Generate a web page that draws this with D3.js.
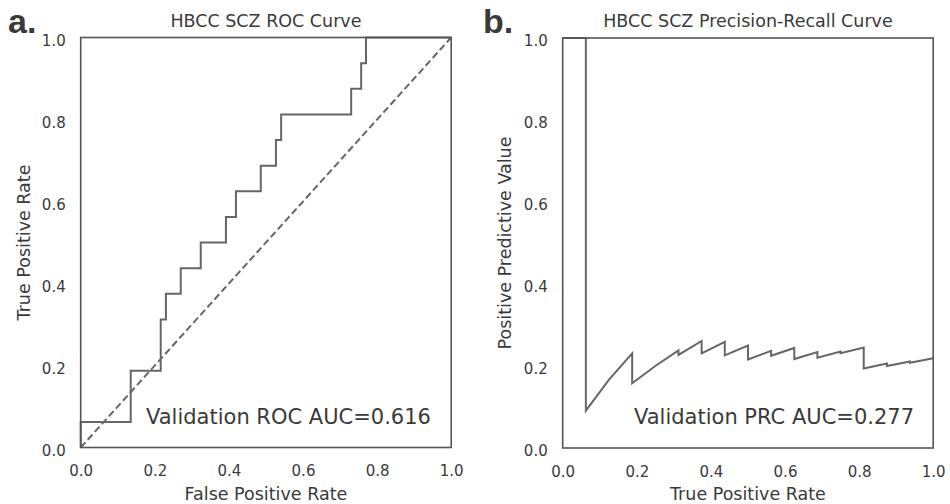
<!DOCTYPE html>
<html>
<head>
<meta charset="utf-8">
<script src="https://cdn.jsdelivr.net/npm/d3@7"></script>
<style>
  body { margin: 0; background: #fff; }
  svg text { font-family: "DejaVu Sans", sans-serif; fill: #3a3a3a; }
</style>
</head>
<body>
<div id="chart"></div>
<script>
"use strict";

// ROC curve corners (false positive rate, true positive rate)
var rocFpr = [0, 0, 0.135, 0.135, 0.216, 0.216, 0.230, 0.230, 0.270, 0.270, 0.324, 0.324,
    0.392, 0.392, 0.419, 0.419, 0.486, 0.486, 0.527, 0.527, 0.541, 0.541, 0.730, 0.730,
    0.757, 0.757, 0.770, 0.770, 1.0];
var rocTpr = [0, 0.0625, 0.0625, 0.1875, 0.1875, 0.3125, 0.3125, 0.375, 0.375, 0.4375, 0.4375, 0.5,
    0.5, 0.5625, 0.5625, 0.625, 0.625, 0.6875, 0.6875, 0.75, 0.75, 0.8125, 0.8125, 0.875,
    0.875, 0.9375, 0.9375, 1.0, 1.0];

// Precision-recall curve (recall, precision)
var prRecall = [0, 0.0625, 0.0625, 0.125, 0.1875, 0.1875, 0.25, 0.3125, 0.3125, 0.375, 0.375,
    0.4375, 0.4375, 0.5, 0.5, 0.5625, 0.5625, 0.625, 0.625, 0.6875, 0.6875, 0.75, 0.75,
    0.8125, 0.8125, 0.875, 0.875, 0.9375, 0.9375, 1.0];
var prPrecision = [1.0, 1.0, 0.091, 0.167, 0.231, 0.158, 0.200, 0.238, 0.227, 0.261, 0.231,
    0.259, 0.226, 0.250, 0.216, 0.237, 0.225, 0.244, 0.217, 0.234, 0.220, 0.235, 0.231,
    0.245, 0.194, 0.206, 0.200, 0.211, 0.208, 0.219];

var tickValues = [0, 0.2, 0.4, 0.6, 0.8, 1.0];

var panels = [
    {
        letter: "a.", title: "HBCC SCZ ROC Curve",
        xLabel: "False Positive Rate", yLabel: "True Positive Rate",
        xs: rocFpr, ys: rocTpr, diagonal: true,
        note: "Validation ROC AUC=0.616",
        left: 80.7, top: 37.5, letterX: 8, yLabelX: 24, noteX: 146
    },
    {
        letter: "b.", title: "HBCC SCZ Precision-Recall Curve",
        xLabel: "True Positive Rate", yLabel: "Positive Predictive Value",
        xs: prRecall, ys: prPrecision, diagonal: false,
        note: "Validation PRC AUC=0.277",
        left: 562.7, top: 38, letterX: 483, yLabelX: 505, noteX: 634
    }
];

var W = 950, H = 504;
var plotW = 370.5, plotH = 410;
var lineColor = "#666666";

var svg = d3.select("#chart").append("svg")
    .attr("width", W)
    .attr("height", H);

panels.forEach(function (p) {
    var x = d3.scaleLinear().domain([0, 1]).range([0, plotW]);
    var y = d3.scaleLinear().domain([0, 1]).range([plotH, 0]);

    var g = svg.append("g")
        .attr("transform", "translate(" + p.left + "," + p.top + ")");

    // axes without tick marks
    var xAxis = g.append("g")
        .attr("transform", "translate(0," + plotH + ")")
        .call(d3.axisBottom(x).tickValues(tickValues).tickFormat(d3.format(".1f")).tickSize(0).tickPadding(18));
    var yAxis = g.append("g")
        .call(d3.axisLeft(y).tickValues(tickValues).tickFormat(d3.format(".1f")).tickSize(0).tickPadding(15));
    [xAxis, yAxis].forEach(function (a) {
        a.select(".domain").remove();
        a.selectAll("text")
            .style("font-family", "DejaVu Sans, sans-serif")
            .style("font-size", "15px")
            .attr("fill", "#555");
    });
    yAxis.selectAll("text").attr("dy", "0.5em");

    // curve
    var pts = p.xs.map(function (d, i) { return [d, p.ys[i]]; });
    var line = d3.line()
        .x(function (d) { return x(d[0]); })
        .y(function (d) { return y(d[1]); });

    if (p.diagonal) {
        g.append("path")
            .attr("d", line([[0, 0], [1, 1]]))
            .attr("fill", "none")
            .attr("stroke", lineColor)
            .attr("stroke-width", 2)
            .attr("stroke-dasharray", "7,3.5");
    }

    g.append("path")
        .attr("d", line(pts))
        .attr("fill", "none")
        .attr("stroke", lineColor)
        .attr("stroke-width", 2)
        .attr("stroke-linejoin", "miter");

    // frame
    g.append("rect")
        .attr("width", plotW)
        .attr("height", plotH)
        .attr("fill", "none")
        .attr("stroke", "#555")
        .attr("stroke-width", 1.6);

    // texts
    svg.append("text")
        .attr("x", p.left + plotW / 2)
        .attr("y", 27)
        .attr("text-anchor", "middle")
        .style("font-size", "17.5px")
        .text(p.title);

    svg.append("text")
        .attr("x", p.left + plotW / 2)
        .attr("y", 500)
        .attr("text-anchor", "middle")
        .style("font-size", "17.5px")
        .text(p.xLabel);

    svg.append("text")
        .attr("transform", "translate(" + p.yLabelX + "," + (p.top + plotH / 2) + ")rotate(-90)")
        .attr("text-anchor", "middle")
        .attr("dy", "0.35em")
        .style("font-size", "17.5px")
        .text(p.yLabel);

    svg.append("text")
        .attr("x", p.noteX)
        .attr("y", 424)
        .style("font-size", "21px")
        .text(p.note);

    svg.append("text")
        .attr("x", p.letterX)
        .attr("y", 33)
        .style("font-family", "Liberation Sans, Arial, sans-serif")
        .style("font-weight", "bold")
        .style("font-size", "34px")
        .attr("fill", "#000")
        .text(p.letter);
});
</script>
</body>
</html>
